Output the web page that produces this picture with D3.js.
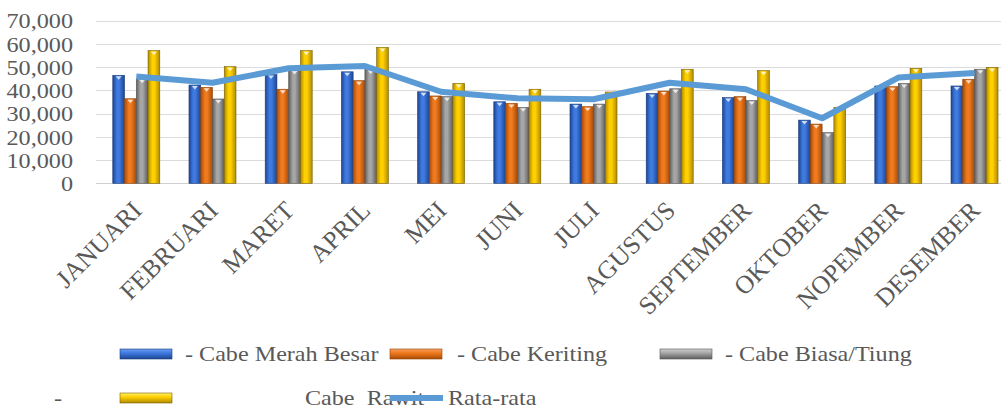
<!DOCTYPE html>
<html>
<head>
<meta charset="utf-8">
<script src="https://cdn.jsdelivr.net/npm/d3@7"></script>
<style>
  html, body { margin: 0; padding: 0; background: #fff; overflow: hidden; }
  svg { display: block; }
</style>
</head>
<body>
<svg id="chart" width="1001" height="410" font-family="'Liberation Serif', 'DejaVu Serif', serif"></svg>
<script>
const months = ["JANUARI","FEBRUARI","MARET","APRIL","MEI","JUNI","JULI","AGUSTUS","SEPTEMBER","OKTOBER","NOPEMBER","DESEMBER"];
const merahBesar = [46500, 42300, 46800, 48000, 39400, 35100, 34100, 38700, 36900, 27200, 41900, 41900];
const keriting   = [36400, 41300, 40500, 44200, 37600, 34400, 33000, 39700, 37300, 25500, 41600, 44800];
const biasaTiung = [45000, 36300, 48800, 49000, 37300, 32700, 34100, 40700, 35600, 21800, 43000, 49100];
const rawit      = [57100, 50200, 57100, 58500, 43000, 40500, 39300, 49100, 48500, 32700, 49500, 49900];
const rataRata   = [46000, 43300, 49500, 50500, 39400, 36600, 36200, 43300, 40500, 28000, 45500, 47500];
const yTicks = [0, 10000, 20000, 30000, 40000, 50000, 60000, 70000];
const seriesNames = ["- Cabe Merah Besar", "- Cabe Keriting", "- Cabe Biasa/Tiung", "Cabe  Rawit"];
const lineName = "Rata-rata";

const seriesVals = [merahBesar, keriting, biasaTiung, rawit];
const palettes = [
  {edge: "#1d4590", mid: "#3f7ae0", hi: "#6d9cf0", stroke: "#1a3c7c"},
  {edge: "#a94c06", mid: "#f07a1e", hi: "#f7a060", stroke: "#8f4005"},
  {edge: "#5e5e5e", mid: "#a6a6a6", hi: "#cfcfcf", stroke: "#555"},
  {edge: "#b08a00", mid: "#ffd000", hi: "#fff070", stroke: "#7a6200"}
];
const lineColor = "#5b9bd5";
const FONT = "'Liberation Serif', 'DejaVu Serif', serif";

const svg = d3.select("#chart");
const defs = svg.append("defs");
palettes.forEach((p, i) => {
  const g = defs.append("linearGradient").attr("id", "bar" + i).attr("x1", "0").attr("x2", "1").attr("y1", "0").attr("y2", "0");
  g.append("stop").attr("offset", "0%").attr("stop-color", p.edge);
  g.append("stop").attr("offset", "35%").attr("stop-color", p.mid);
  g.append("stop").attr("offset", "55%").attr("stop-color", p.mid);
  g.append("stop").attr("offset", "100%").attr("stop-color", p.edge);
  const v = defs.append("linearGradient").attr("id", "leg" + i).attr("x1", "0").attr("x2", "0").attr("y1", "0").attr("y2", "1");
  v.append("stop").attr("offset", "0%").attr("stop-color", p.hi);
  v.append("stop").attr("offset", "40%").attr("stop-color", p.mid);
  v.append("stop").attr("offset", "100%").attr("stop-color", p.edge);
});

const y = d3.scaleLinear().domain([0, 70000]).range([183.3, 20.7]);
const x = d3.scaleBand().domain(months).range([98.3, 1012.5]).paddingInner(0.383).paddingOuter(0.19);
const xs = d3.scaleBand().domain(d3.range(4)).range([0, x.bandwidth()]);

// gridlines
svg.append("g").selectAll("line").data(yTicks).join("line")
  .attr("x1", 96).attr("x2", 1001)
  .attr("y1", d => Math.round(y(d)) + 0.5).attr("y2", d => Math.round(y(d)) + 0.5)
  .attr("stroke", d => d === 0 ? "#cfcfcf" : "#dcdcdc").attr("stroke-width", 1.2);

// y axis labels
const fmt = d3.format(",");
svg.append("g").selectAll("text").data(yTicks).join("text")
  .attr("transform", d => `translate(73,${y(d)}) scale(1.1,1)`).attr("dy", "0.35em")
  .attr("text-anchor", "end").attr("font-size", 22)
  .attr("font-family", FONT).attr("fill", "#595959")
  .text(d => fmt(d));

// bars
const groups = svg.append("g").selectAll("g").data(months).join("g")
  .attr("transform", d => `translate(${x(d)},0)`);
groups.each(function(m, mi) {
  const g = d3.select(this);
  seriesVals.forEach((vals, si) => {
    const v = vals[mi];
    g.append("rect")
      .attr("x", xs(si)).attr("width", xs.bandwidth())
      .attr("y", y(v)).attr("height", y(0) - y(v))
      .attr("fill", `url(#bar${si})`)
      .attr("stroke", palettes[si].stroke).attr("stroke-width", 0.6);
    const cx = xs(si) + xs.bandwidth() / 2;
    g.append("path")
      .attr("d", `M${cx - 3},${y(v) + 1} L${cx + 3},${y(v) + 1} L${cx},${y(v) + 4.5} Z`)
      .attr("fill", "#ffffff").attr("opacity", 0.75);
  });
});

// average line
const line = d3.line().x((d, i) => x(months[i]) + x.bandwidth() / 2).y(d => y(d));
svg.append("path").datum(rataRata)
  .attr("d", line).attr("fill", "none")
  .attr("stroke", lineColor).attr("stroke-width", 6).attr("stroke-linejoin", "round");

// x labels
svg.append("g").selectAll("text").data(months).join("text")
  .attr("transform", d => `translate(${x(d) + x.bandwidth() / 2 + 7},${212}) rotate(-45)`)
  .attr("text-anchor", "end").attr("font-size", 25.5)
  .attr("font-family", FONT).attr("fill", "#595959")
  .text(d => d);

// legend
const leg = svg.append("g");
function legText(tx, ty, s) {
  leg.append("text").attr("transform", `translate(${tx},${ty}) scale(1.15,1)`)
    .attr("font-size", 21).attr("font-family", FONT).attr("fill", "#595959")
    .style("white-space", "pre").text(s);
}
function legSwatch(sx, sy, i) {
  leg.append("rect").attr("x", sx).attr("y", sy).attr("width", 52).attr("height", 10)
    .attr("fill", `url(#leg${i})`).attr("stroke", palettes[i].stroke).attr("stroke-width", 0.6);
}
legSwatch(120, 349, 0); legText(185, 361, seriesNames[0]);
legSwatch(390, 349, 1); legText(457, 361, seriesNames[1]);
legSwatch(660, 349, 2); legText(725, 361, seriesNames[2]);
legText(54, 405, "-");
legSwatch(120, 393, 3); legText(305, 405, seriesNames[3]);
leg.append("line").attr("x1", 390).attr("x2", 443).attr("y1", 398).attr("y2", 398)
  .attr("stroke", lineColor).attr("stroke-width", 6);
legText(448, 405, lineName);
</script>
</body>
</html>
